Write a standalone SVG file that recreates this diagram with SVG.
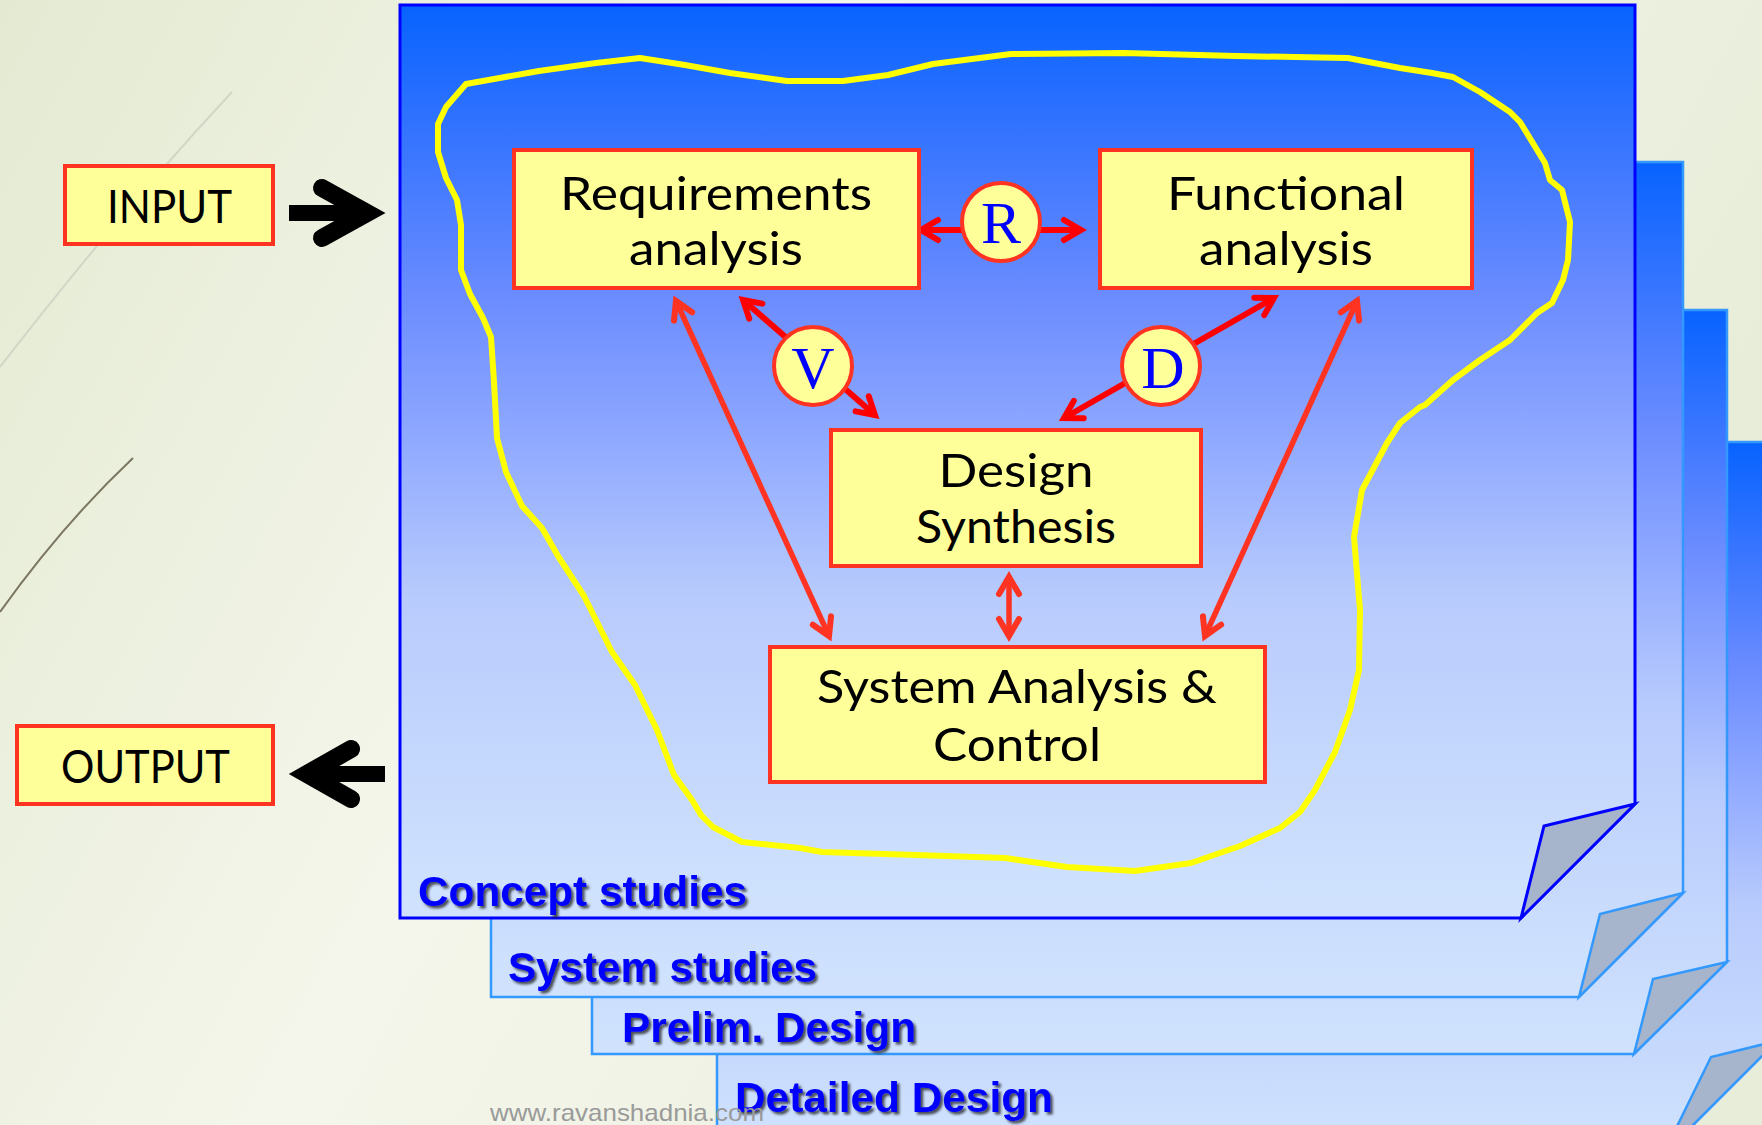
<svg xmlns="http://www.w3.org/2000/svg" width="1762" height="1125" viewBox="0 0 1762 1125">
  <defs>
    <linearGradient id="bg" x1="0" y1="0" x2="1" y2="0.35">
      <stop offset="0" stop-color="#e4ead2"/>
      <stop offset="0.45" stop-color="#f4f6eb"/>
      <stop offset="1" stop-color="#e8edd9"/>
    </linearGradient>
    <linearGradient id="sheet" x1="0" y1="0" x2="0" y2="1">
      <stop offset="0" stop-color="#0763ff"/>
      <stop offset="0.16" stop-color="#3a76ff"/>
      <stop offset="0.32" stop-color="#6b8cff"/>
      <stop offset="0.47" stop-color="#8ea8ff"/>
      <stop offset="0.65" stop-color="#b8cbfd"/>
      <stop offset="0.95" stop-color="#cde0fd"/>
      <stop offset="1" stop-color="#d0e2fd"/>
    </linearGradient>
    <marker id="headRed" markerUnits="userSpaceOnUse" orient="auto-start-reverse" refX="0" refY="0" markerWidth="40" markerHeight="40" overflow="visible">
      <path d="M-17,-10 L0,0 L-17,10" fill="none" stroke="#ff0000" stroke-width="6" stroke-linecap="round" stroke-linejoin="miter" stroke-miterlimit="10"/>
    </marker>
    <marker id="headOrange" markerUnits="userSpaceOnUse" orient="auto-start-reverse" refX="0" refY="0" markerWidth="40" markerHeight="40" overflow="visible">
      <path d="M-17,-10 L0,0 L-17,10" fill="none" stroke="#ff3322" stroke-width="6" stroke-linecap="round" stroke-linejoin="miter" stroke-miterlimit="10"/>
    </marker>
    <filter id="txtShadow" x="-5%" y="-20%" width="110%" height="150%">
      <feDropShadow dx="2.5" dy="2.5" stdDeviation="0.8" flood-color="#1a1a1a" flood-opacity="0.75"/>
    </filter>
  </defs>
  <style>
    .sheet { fill: url(#sheet); stroke: #3399ff; stroke-width: 2.5; }
    .sheet.front { stroke: #0000ff; stroke-width: 3; }
    .fold { fill: #a7b5cc; stroke: #3399ff; stroke-width: 2.5; stroke-linejoin: miter; }
    .fold.front { stroke: #0000ff; stroke-width: 3; }
    .phase { font-family: "Liberation Sans", Arial, sans-serif; font-weight: bold; font-size: 42px; fill: #0000ff; filter: url(#txtShadow); }
    .box { fill: #ffff99; stroke: #ff3322; stroke-width: 4; }
    .lbl { font-family: Lato, "Noto Sans", sans-serif; font-size: 47px; fill: #000; text-anchor: middle; }
    .badge { fill: #ffff99; stroke: #ff3322; stroke-width: 4; }
    .badgeTxt { font-family: "Liberation Serif", "Times New Roman", serif; font-size: 60px; fill: #0000ff; text-anchor: middle; }
    .link { fill: none; stroke: #ff3322; stroke-width: 5.5; marker-start: url(#headOrange); marker-end: url(#headOrange); }
    .link.red { stroke: #ff0000; stroke-width: 6; marker-start: url(#headRed); marker-end: url(#headRed); }
    .io { fill: none; stroke: #000; stroke-width: 18; stroke-linecap: round; stroke-linejoin: miter; stroke-miterlimit: 10; }
  </style>

  <!-- backdrop -->
  <rect x="0" y="0" width="1762" height="1125" fill="url(#bg)"/>
  <path d="M0,367 Q120,212 232,92" fill="none" stroke="#d2d6c6" stroke-width="2"/>
  <path d="M0,612 Q62,525 133,458" fill="none" stroke="#7b7660" stroke-width="2"/>

  <!-- stacked phase sheets, back to front -->
  <g id="sheets">
    <g id="sheet-detailed">
      <path class="sheet" d="M717,442 H1777 V1041 L1663,1155 H717 Z"/>
      <path class="fold" d="M1777,1041 L1711,1057 L1663,1155 Z"/>
    </g>
    <g id="sheet-prelim">
      <path class="sheet" d="M592,310 H1727 V962 L1634,1054 H592 Z"/>
      <path class="fold" d="M1727,962 L1653,979 L1634,1054 Z"/>
    </g>
    <g id="sheet-system">
      <path class="sheet" d="M491,162 H1683 V893 L1579,997 H491 Z"/>
      <path class="fold" d="M1683,893 L1600,914 L1579,997 Z"/>
    </g>
    <g id="sheet-concept">
      <path class="sheet front" d="M400,5 H1635 V804 L1521,918 H400 Z"/>
      <path class="fold front" d="M1635,804 L1544,826 L1521,918 Z"/>
    </g>
  </g>

  <g id="phase-labels">
    <text class="phase" x="418" y="906" textLength="329" lengthAdjust="spacingAndGlyphs">Concept studies</text>
    <text class="phase" x="508" y="982" textLength="309" lengthAdjust="spacingAndGlyphs">System studies</text>
    <text class="phase" x="622" y="1042" textLength="294" lengthAdjust="spacingAndGlyphs">Prelim. Design</text>
    <text class="phase" x="735" y="1112" textLength="318" lengthAdjust="spacingAndGlyphs">Detailed Design</text>
  </g>

  <!-- hand-drawn boundary around the process loop -->
  <path id="boundary" fill="none" stroke="#ffff00" stroke-width="6" stroke-linejoin="round"
        d="M466,84 L494,79 L539,71 L596,63 L640,58 L685,65 L730,73 L787,81 L843,81 L888,75 L933,64 L1011,54 L1124,53 L1236,56 L1348,58 L1400,68 L1432,73 L1453,77 L1480,92 L1510,112 L1520,122 L1545,163 L1550,180 L1562,190 L1570,222 L1568,260 L1563,280 L1552,303 L1537,313 L1532,318 L1510,340 L1480,360 L1453,380 L1425,405 L1420,407 L1400,423 L1387,443 L1362,490 L1354,537 L1360,610 L1359,670 L1350,710 L1335,752 L1315,790 L1300,812 L1280,828 L1240,846 L1191,863 L1135,871 L1067,867 L1005,858 L916,855 L822,852 L800,848 L742,842 L713,827 L701,815 L692,800 L674,775 L657,730 L635,685 L612,652 L584,596 L558,556 L542,528 L522,506 L506,472 L497,438 L494,382 L491,337 L483,318 L470,294 L461,270 L461,225 L457,200 L446,178 L438,152 L438,124 L446,107 Z"/>

  <!-- connectors -->
  <g id="connectors">
    <line class="link red" x1="921" y1="230" x2="1081" y2="230"/>
    <line class="link red" x1="743" y1="300" x2="875" y2="415"/>
    <line class="link red" x1="1064" y1="418" x2="1274" y2="298"/>
    <line class="link" x1="676" y1="301" x2="829" y2="636"/>
    <line class="link" x1="1357" y1="301" x2="1205" y2="636"/>
    <line class="link" x1="1009" y1="577" x2="1009" y2="636"/>
    <g id="input-arrow">
      <rect x="289" y="205" width="72" height="16" fill="#000"/>
      <polyline class="io" points="322,188 367,213 322,238"/>
    </g>
    <g id="output-arrow">
      <rect x="318" y="766" width="67" height="16" fill="#000"/>
      <polyline class="io" points="351,749 307,774 351,799"/>
    </g>
  </g>

  <!-- nodes -->
  <g id="input">
    <rect class="box" x="65" y="166" width="208" height="78"/>
    <text class="lbl" x="169.5" y="223" textLength="125" lengthAdjust="spacingAndGlyphs">INPUT</text>
  </g>
  <g id="output">
    <rect class="box" x="17" y="726" width="256" height="78"/>
    <text class="lbl" x="145.5" y="783" textLength="169" lengthAdjust="spacingAndGlyphs">OUTPUT</text>
  </g>
  <g id="requirements">
    <rect class="box" x="514" y="150" width="405" height="138"/>
    <text class="lbl" x="716" y="210" textLength="312" lengthAdjust="spacingAndGlyphs">Requirements</text>
    <text class="lbl" x="716" y="265" textLength="174" lengthAdjust="spacingAndGlyphs">analysis</text>
  </g>
  <g id="functional">
    <rect class="box" x="1100" y="150" width="372" height="138"/>
    <text class="lbl" x="1286" y="210" textLength="238" lengthAdjust="spacingAndGlyphs">Functional</text>
    <text class="lbl" x="1286" y="265" textLength="174" lengthAdjust="spacingAndGlyphs">analysis</text>
  </g>
  <g id="synthesis">
    <rect class="box" x="831" y="430" width="370" height="136"/>
    <text class="lbl" x="1016" y="487" textLength="155" lengthAdjust="spacingAndGlyphs">Design</text>
    <text class="lbl" x="1016" y="543" textLength="200" lengthAdjust="spacingAndGlyphs">Synthesis</text>
  </g>
  <g id="analysis-control">
    <rect class="box" x="770" y="647" width="495" height="135"/>
    <text class="lbl" x="1017" y="703" textLength="400" lengthAdjust="spacingAndGlyphs">System Analysis &amp;</text>
    <text class="lbl" x="1017" y="761" textLength="168" lengthAdjust="spacingAndGlyphs">Control</text>
  </g>
  <g id="badge-r">
    <circle class="badge" cx="1001" cy="222" r="39"/>
    <text class="badgeTxt" x="1001" y="243">R</text>
  </g>
  <g id="badge-v">
    <circle class="badge" cx="813" cy="366" r="39"/>
    <text class="badgeTxt" x="813" y="388">V</text>
  </g>
  <g id="badge-d">
    <circle class="badge" cx="1161" cy="366" r="39"/>
    <text class="badgeTxt" x="1163" y="388">D</text>
  </g>

  <text id="footer" x="490" y="1121" font-family="'Liberation Sans', Arial, sans-serif" font-size="24" fill="#9a9a9a" textLength="274" lengthAdjust="spacingAndGlyphs">www.ravanshadnia.com</text>
</svg>
